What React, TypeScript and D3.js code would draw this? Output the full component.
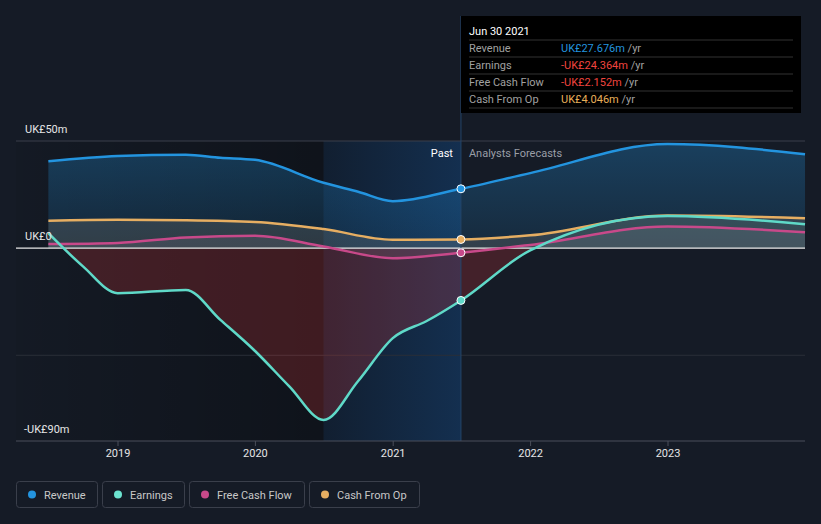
import React from "react";
import * as d3 from "d3";

const W = 821;
const H = 524;

const revDates = ["2018-06-30","2018-12-31","2019-06-30","2019-09-30","2019-12-31","2020-06-30","2020-09-30","2020-12-31","2021-06-30","2021-12-31","2022-12-31","2023-12-31"];
const revenue = [40.5, 43.0, 43.6, 42.2, 41.2, 30.5, 26.3, 21.9, 27.7, 35.0, 48.6, 43.8];

const earnDates = ["2018-06-30","2018-09-30","2018-12-31","2019-06-30","2019-09-30","2019-12-31","2020-03-31","2020-06-30","2020-09-30","2020-12-31","2021-03-31","2021-06-30","2021-12-31","2022-12-31","2023-12-31"];
const earnings = [7.0, -8.5, -21.0, -19.5, -33.5, -48.0, -64.5, -80.2, -62.0, -42.0, -34.0, -24.4, -1.0, 15.0, 11.2];

const fcfDates = ["2018-06-30","2018-12-31","2019-06-30","2019-12-31","2020-06-30","2020-12-31","2021-06-30","2021-12-31","2022-12-31","2023-12-31"];
const fcf = [1.9, 2.4, 5.0, 5.8, 0.8, -4.7, -2.15, 1.5, 10.1, 7.4];

const cfoDates = ["2018-06-30","2018-12-31","2019-06-30","2019-12-31","2020-06-30","2020-12-31","2021-06-30","2021-12-31","2022-12-31","2023-12-31"];
const cfo = [12.8, 13.2, 13.0, 12.2, 8.9, 3.9, 4.05, 6.0, 15.2, 14.0];

const yearTicks = ["2019","2020","2021","2022","2023"];
const yLabels = [{ v: 50, t: "UK£50m" }, { v: 0, t: "UK£0" }, { v: -90, t: "-UK£90m" }];

const tipRows = [
  { label: "Revenue", value: "UK£27.676m", color: "#2394DF" },
  { label: "Earnings", value: "-UK£24.364m", color: "#F0443E" },
  { label: "Free Cash Flow", value: "-UK£2.152m", color: "#F0443E" },
  { label: "Cash From Op", value: "UK£4.046m", color: "#E8AF5A" },
];

const legendItems = [
  { label: "Revenue", color: "#2394DF", x: 16, w: 81 },
  { label: "Earnings", color: "#6CE3D0", x: 102, w: 82 },
  { label: "Free Cash Flow", color: "#C8498A", x: 189, w: 115 },
  { label: "Cash From Op", color: "#E6AE62", x: 309, w: 110 },
];

const parse = d3.timeParse("%Y-%m-%d");
const x = d3.scaleTime().domain([parse("2019-01-01")!, parse("2023-01-01")!]).range([118, 668]);
const y = d3.scaleLinear().domain([-90, 50]).range([441, 141]);

type P = { d: Date; v: number };
const mk = (ds: string[], vs: number[]): P[] => ds.map((s, i) => ({ d: parse(s)!, v: vs[i] }));

const revData = mk(revDates, revenue);
const earnData = mk(earnDates, earnings);
const fcfData = mk(fcfDates, fcf);
const cfoData = mk(cfoDates, cfo);

const line = d3.line<P>().x(p => x(p.d)).y(p => y(p.v)).curve(d3.curveMonotoneX);
const area = d3.area<P>().x(p => x(p.d)).y0(y(0)).y1(p => y(p.v)).curve(d3.curveMonotoneX);

const FONT = "Roboto, 'Open Sans', sans-serif";

export default function App() {
  const xStart = 16, xEnd = 805;
  const xHi0 = x(parse("2020-06-30")!);
  const xNow = x(parse("2021-06-30")!);
  const y0 = y(0);
  const nowIdx = (arr: P[]) => arr.find(p => +p.d === +parse("2021-06-30")!)!;
  const markers = [
    { p: nowIdx(revData), c: "#2394DF" },
    { p: nowIdx(cfoData), c: "#E6AE62" },
    { p: nowIdx(fcfData), c: "#C8498A" },
    { p: nowIdx(earnData), c: "#5FD9C8" },
  ];
  return (
    <svg width={W} height={H} style={{ position: "absolute", left: 0, top: 0, background: "#151B26" }} fontFamily={FONT}>
      <defs>
        <linearGradient id="pastGrad" x1="0" x2="1" y1="0" y2="0">
          <stop offset="0" stopColor="#000" stopOpacity="0.05" />
          <stop offset="1" stopColor="#000" stopOpacity="0.3" />
        </linearGradient>
        <linearGradient id="hiGrad" x1="0" x2="1" y1="0" y2="0">
          <stop offset="0" stopColor="#1a5ea8" stopOpacity="0.12" />
          <stop offset="1" stopColor="#1a5ea8" stopOpacity="0.35" />
        </linearGradient>
        <linearGradient id="revGrad" x1="0" x2="0" y1="0" y2="1">
          <stop offset="0" stopColor="#2394DF" stopOpacity="0.3" />
          <stop offset="1" stopColor="#2394DF" stopOpacity="0.12" />
        </linearGradient>
        <clipPath id="above"><rect x={0} y={0} width={W} height={y0} /></clipPath>
        <clipPath id="below"><rect x={0} y={y0} width={W} height={H - y0} /></clipPath>
      </defs>
      <rect x={0} y={0} width={W} height={H} fill="#151B26" />
      {/* past overlay */}
      <rect x={xStart} y={141} width={xHi0 - xStart} height={300} fill="url(#pastGrad)" />
      <rect x={xHi0} y={141} width={xNow - xHi0} height={300} fill="#0a0f18" opacity={0.35} />
      <rect x={xHi0} y={141} width={xNow - xHi0} height={300} fill="url(#hiGrad)" />

      {/* gridlines */}
      <line x1={xStart} x2={xEnd} y1={y(50)} y2={y(50)} stroke="#3a3f4b" strokeWidth={1} />
      <line x1={xStart} x2={xEnd} y1={y(-50)} y2={y(-50)} stroke="#2a2e38" strokeWidth={1} />

      {/* areas */}
      <path d={area(revData)!} fill="url(#revGrad)" />
      <path d={area(cfoData)!} fill="#d9c7a0" fillOpacity={0.14} />
      <path d={area(fcfData)!} fill="#d0c8d8" fillOpacity={0.1} />
      <path d={area(earnData)!} fill="#FF3B3B" fillOpacity={0.2} clipPath="url(#below)" />
      <path d={area(earnData)!} fill="#6CE3D0" fillOpacity={0.06} clipPath="url(#above)" />

      {/* zero line */}
      <line x1={xStart} x2={xEnd} y1={y0} y2={y0} stroke="#e8e8e8" strokeWidth={1.2} />

      {/* lines */}
      <path d={line(revData)!} fill="none" stroke="#2394DF" strokeWidth={2.5} />
      <path d={line(cfoData)!} fill="none" stroke="#E6AE62" strokeWidth={2.5} />
      <path d={line(fcfData)!} fill="none" stroke="#C8498A" strokeWidth={2.5} />
      <path d={line(earnData)!} fill="none" stroke="#5FD9C8" strokeWidth={2.5} />

      {/* now line */}
      <line x1={xNow} x2={xNow} y1={16} y2={441} stroke="#24446a" strokeWidth={1} />
      {markers.map((m, i) => (
        <circle key={i} cx={x(m.p.d)} cy={y(m.p.v)} r={4} fill={m.c} stroke="#fff" strokeWidth={1} />
      ))}

      <text x={xNow - 8} y={157} fill="#fff" fontSize={11} textAnchor="end">Past</text>
      <text x={xNow + 8} y={157} fill="#9a9ea6" fontSize={11}>Analysts Forecasts</text>

      {/* y labels */}
      {yLabels.map((l, i) => (
        <text key={i} x={l.v < 0 ? 24 : 25} y={y(l.v) - 8} fill="#e6e6e6" fontSize={11}>{l.t}</text>
      ))}

      {/* x axis */}
      <line x1={xStart} x2={xEnd} y1={441} y2={441} stroke="#4a4f5a" strokeWidth={1} />
      {yearTicks.map(t => {
        const xx = x(parse(t + "-01-01")!);
        return (
          <g key={t}>
            <line x1={xx} x2={xx} y1={441} y2={446} stroke="#4a4f5a" />
            <text x={xx} y={457} fill="#e6e6e6" fontSize={11} textAnchor="middle">{t}</text>
          </g>
        );
      })}

      {/* tooltip */}
      <rect x={461} y={16} width={340} height={97} fill="#000" />
      <text x={469} y={35} fill="#fff" fontSize={11}>Jun 30 2021</text>
      {tipRows.map((r, i) => {
        const yy = 40 + i * 17;
        return (
          <g key={r.label}>
            <line x1={469} x2={793} y1={yy} y2={yy} stroke="#333" />
            <text x={469} y={yy + 12} fill="#a0a0a0" fontSize={11}>{r.label}</text>
            <text x={561} y={yy + 12} fontSize={11}>
              <tspan fill={r.color}>{r.value}</tspan>
              <tspan fill="#a0a0a0"> /yr</tspan>
            </text>
          </g>
        );
      })}
      <line x1={469} x2={793} y1={108} y2={108} stroke="#333" />

      {/* legend */}
      {legendItems.map(l => (
        <g key={l.label}>
          <rect x={l.x + 0.5} y={481.5} width={l.w} height={26} rx={3} fill="none" stroke="#3a3f4b" />
          <circle cx={l.x + 16} cy={494.5} r={4} fill={l.color} />
          <text x={l.x + 28} y={498.5} fill="#c8c8c8" fontSize={11}>{l.label}</text>
        </g>
      ))}
    </svg>
  );
}
